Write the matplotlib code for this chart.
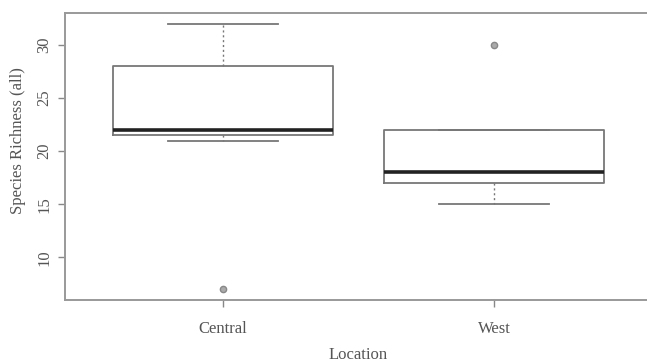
import matplotlib
matplotlib.use("Agg")
import matplotlib.pyplot as plt

categories = ["Central", "West"]
q1 = [21.5, 17]
med = [22, 18]
q3 = [28, 22]
whislo = [21, 15]
whishi = [32, 22]
fliers = [[7], [30]]
yticks = [10, 15, 20, 25, 30]

plt.rcParams['font.family'] = ['Liberation Serif', 'DejaVu Serif']
fig = plt.figure(figsize=(6.47, 3.63), dpi=100)
ax = fig.add_axes([65 / 647, 1 - 300 / 363, 587 / 647, 287 / 363])

stats = []
for i, c in enumerate(categories):
    stats.append(dict(label=c, q1=q1[i], med=med[i], q3=q3[i],
                      whislo=whislo[i], whishi=whishi[i], fliers=fliers[i]))

lc = '#777777'
ax.bxp(stats, positions=[1, 2], widths=0.81, showfliers=True,
       boxprops=dict(color=lc, lw=1.3),
       medianprops=dict(color='#222222', lw=2.6),
       whiskerprops=dict(color=lc, lw=1.0, linestyle=(0, (1.5, 2))),
       capprops=dict(color=lc, lw=1.3),
       flierprops=dict(marker='o', markersize=4.5, markerfacecolor='#aaaaaa',
                       markeredgecolor='#888888', linestyle='none'))

ax.set_xlim(0.417, 2.583)
ax.set_ylim(6, 33)
ax.set_yticks(yticks)
ax.set_yticklabels([str(v) for v in yticks], rotation=90, va='center')
ax.set_xticks([1, 2])
ax.set_xticklabels(categories)
for s in ax.spines.values():
    s.set_color('#999999')
    s.set_linewidth(1.4)
ax.tick_params(axis='both', colors='#888888', labelcolor='#555555', labelsize=12, length=5, width=1)
ax.tick_params(axis='y', pad=4)
ax.tick_params(axis='x', pad=10)
ax.set_xlabel("Location", fontsize=12, color='#555555', va='center')
ax.set_ylabel("Species Richness (all)", fontsize=12, color='#555555', va='center')
ax.xaxis.set_label_coords(0.5 * (2.583 - 0.417) / 2.166 + (1.5 - 1.5), -55 / 287)
ax.yaxis.set_label_coords(-47 / 587, (300 - 141) / 287)

fig.savefig("out.png", dpi=100)
